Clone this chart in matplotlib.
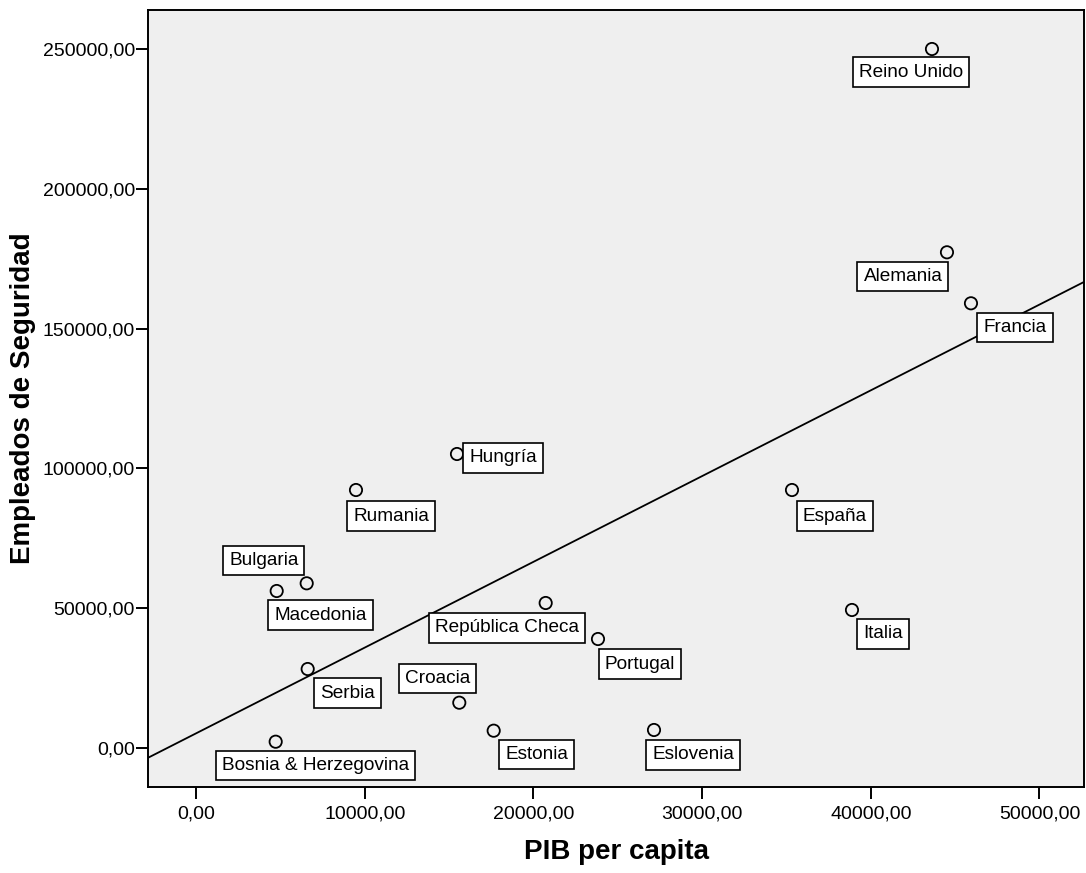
import numpy as np
import matplotlib
matplotlib.use("Agg")
import matplotlib.pyplot as plt
from matplotlib.ticker import FuncFormatter

plt.rcParams["font.family"] = ["Liberation Sans", "DejaVu Sans"]

# Countries, GDP per capita and security employees
paises = ["Reino Unido", "Alemania", "Francia", "Hungría", "Rumania", "España",
          "Bulgaria", "Macedonia", "República Checa", "Portugal", "Italia",
          "Serbia", "Croacia", "Estonia", "Eslovenia", "Bosnia & Herzegovina"]
pib = [43628, 44517, 45940, 15471, 9484, 35330,
       6562, 4784, 20729, 23830, 38886,
       6621, 15608, 17647, 27150, 4724]
empleados = [250000, 177290, 159050, 105150, 92270, 92270,
             58900, 56150, 51860, 38980, 49360,
             28250, 16200, 6190, 6440, 2250]

# Where each label box sits relative to its point (pixels; +y is up)
desplaz = {
    "Reino Unido": (-21, -23), "Alemania": (-44, -24), "Francia": (44, -24),
    "Hungría": (46, -4), "Rumania": (35, -26), "España": (43, -26),
    "Bulgaria": (-43, 23), "Macedonia": (44, -24), "República Checa": (-39, -25),
    "Portugal": (42, -25), "Italia": (31, -24), "Serbia": (40, -24),
    "Croacia": (-22, 24), "Estonia": (43, -24), "Eslovenia": (39, -25),
    "Bosnia & Herzegovina": (40, -24),
}

fig = plt.figure(figsize=(10.86, 8.73), dpi=100)
ax = fig.add_axes([148 / 1086, 86 / 873, 936 / 1086, 777 / 873])
ax.set_facecolor("#efefef")

xlim = (-2845, 52640)
ylim = (-13950, 263950)
ax.set_xlim(*xlim)
ax.set_ylim(*ylim)

# Least-squares fit line across the full width
x = np.array(pib, dtype=float)
y = np.array(empleados, dtype=float)
pend, orden = np.polyfit(x, y, 1)
xs = np.array(xlim)
ax.plot(xs, orden + pend * xs, color="black", lw=1.3, zorder=2)

ax.scatter(x, y, s=78, facecolors="none", edgecolors="black",
           linewidths=1.3, zorder=3)

for nombre, xv, yv in zip(paises, pib, empleados):
    dx, dy = desplaz[nombre]
    ax.annotate(nombre, (xv, yv), xytext=(dx, dy), textcoords="offset pixels",
                ha="center", va="center", fontsize=13.7, zorder=4,
                bbox=dict(boxstyle="square,pad=0.32", fc="white", ec="black", lw=1.2))

fmt = FuncFormatter(lambda v, p: f"{v:.2f}".replace(".", ","))
ax.set_xticks([0, 10000, 20000, 30000, 40000, 50000])
ax.set_yticks([0, 50000, 100000, 150000, 200000, 250000])
ax.xaxis.set_major_formatter(fmt)
ax.yaxis.set_major_formatter(fmt)
ax.tick_params(axis="both", direction="out", length=8.5, width=1.4,
               labelsize=14, color="black")
ax.tick_params(axis="y", pad=1)
ax.tick_params(axis="x", pad=5)
for sp in ax.spines.values():
    sp.set_linewidth(1.4)
    sp.set_color("black")

ax.set_xlabel("PIB per capita", fontsize=20, fontweight="bold", labelpad=12)
ax.set_ylabel("Empleados de Seguridad", fontsize=20, fontweight="bold", labelpad=5)

fig.savefig("out.png", dpi=100, facecolor="white")
